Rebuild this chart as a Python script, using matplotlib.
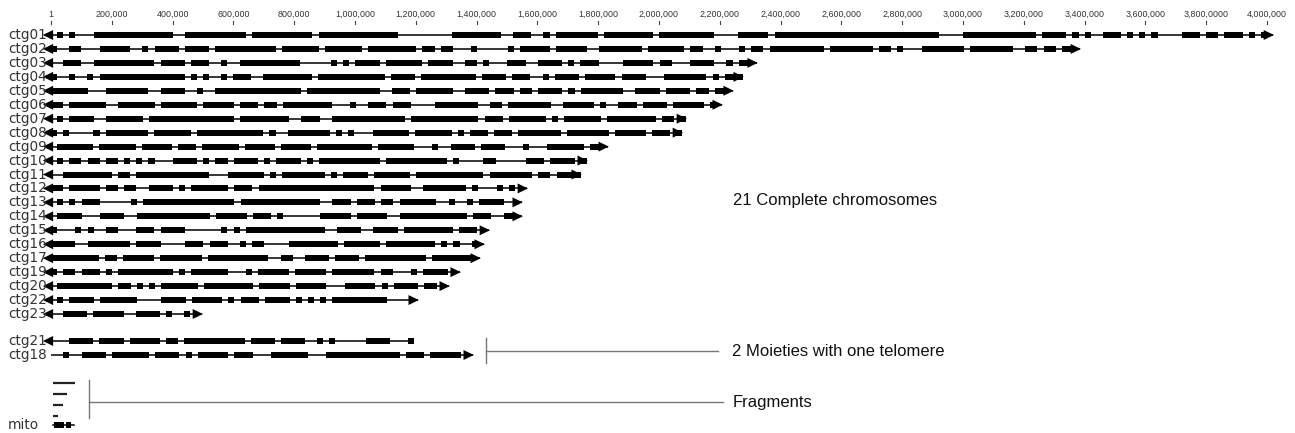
import matplotlib.pyplot as plt
from matplotlib.patches import Polygon

# contig lengths in kb and gene-block patterns.
# each pattern char is one equal bin along the contig: '#' = gene block, '-' = bare backbone
complete_names = ['ctg01', 'ctg02', 'ctg03', 'ctg04', 'ctg05', 'ctg06', 'ctg07', 'ctg08',
                  'ctg09', 'ctg10', 'ctg11', 'ctg12', 'ctg13', 'ctg14', 'ctg15', 'ctg16',
                  'ctg17', 'ctg19', 'ctg20', 'ctg22', 'ctg23']
complete_lengths = [4020, 3385, 2322, 2276, 2243, 2207, 2089, 2076, 1832, 1763, 1743,
                    1566, 1549, 1549, 1441, 1424, 1411, 1345, 1309, 1207, 497]
complete_patterns = [
    ("-#-#---#############--" "##########-##########-#############" "---------"
     "########--###--#-" "#######-########-" "#########----" "#####-###################"
     "########----" "############-####" "-#-#--###" "-#-#-#----" "###-##-###-#-#-"),
    ("#--" "##-" "--" "#####" "--#-" "####-####" "-" "##########" "-#" "#####-######-#######"
     "#-" "##-##" "---#-----" "#-" "#####-#####" "--" "#######-#" "#####-##" "--#---"
     "#-##-#########-####" "###-##-#" "---" "#######-#######" "--" "##-##" "-##-"),
    ("--" "###" "--" "##########" "-" "####-###" "--#--" "##########" "-----#-#-"
     "####-######-####" "--" "##" "-#---" "###" "--" "####" "-#" "-###" "----" "#####"
     "-#" "#---" "####" "--#-" "##-"),
    ("#--" "#" "--#-" "#########" "#####" "-#-#--#-" "###" "--" "########-#######" "####-"
     "####-#####" "####-####" "-" "###-" "-#-" "####-#####-####" "---" "######" "#-#-##" "#"),
    ("######" "---" "#######" "--" "####-" "-#--" "##############-############" "--"
     "###-######" "--" "####-###-##-####" "-#-" "#######" "--" "####-####" "-#" "#-##-"),
    ("##-" "######-" "-#" "#####" "-" "######-#####" "-#" "##-##" "-" "########" "---" "#-"
     "-" "###-###" "---" "-##" "#####" "--" "##-#######" "--" "#####-#" "--" "###-####"
     "-##" "###-#-"),
    ("-#-#" "###" "--" "######-######" "########-########" "--" "###" "--"
     "############-###########" "-" "###" "-" "######" "-" "#" "-" "######" "-" "########"
     "-" "##-#"),
    ("#-#-" "---" "#-##" "#####-######" "-" "##########" "#-#--" "#######-#-#" "---"
     "######-######" "-#-" "###-###" "-" "#######-######" "#-" "#####-###-#"),
    ("-#" "#####" "-" "######-#####-###-######" "-" "#####-#####-#########-######" "---" "#"
     "--" "####-####" "---#---" "######-##" "-"),
    ("-#-##-##-##" "-#-#-#-" "--" "####" "-#-" "##-####" "-#-" "####-#-##########-##########"
     "-#-" "---" "##" "-----" "###-####" "-#"),
    ("--#" "#######-##-#######" "#####" "---" "######" "-#-" "#######" "-" "#-####" "-"
     "######-######" "#####-#######-##-####"),
    ("##-##" "###-" "##-" "##--" "####-#-" "######-" "###-" "###################" "-#"
     "####" "--" "######" "#-#" "---" "#" "-#--"),
    ("-#-" "#" "-#" "##" "-----" "#-###############" "-" "#############" "--" "###-###"
     "-##-" "######" "--#--" "#-" "####" "---"),
    ("-#" "###" "---" "####" "--" "########" "####" "-" "#####-###-#-" "-----" "#####-#####"
     "--" "##########" "#-##" "#-" "-##-"),
    ("#-" "--" "#-#" "--" "##" "--" "-##" "#-####" "------" "#" "-" "#-#############" "--"
     "####" "--" "####-########" "-" "###" "--"),
    ("####" "--" "#######-####" "----" "###-###" "--" "#-##" "----" "########" "-" "######"
     "-" "#######" "#-#-" "#--#-"),
    ("########-##-#####-#######-##########" "--" "##" "--" "####-####-##########-######" "#-"),
    ("#-##" "-" "##" "#-#" "-" "#########" "-#-" "#####" "#" "---#-" "#####-" "#####" "-"
     "######" "#-##" "---" "#" "-" "####" "--"),
    ("-#" "#######" "#-##-#" "-#-" "######" "-" "####" "####-" "#####-#####" "---" "#####"
     "-" "#-###" "#-#" "#--"),
    ("-#-" "####-" "######" "----" "####-#####" "-#-" "###-####" "-#-#-#-" "#########" "-----"),
    ("--" "####" "-" "#####" "--" "####" "-#" "--" "#" "--"),
]

moiety_names = ['ctg21', 'ctg18']
moiety_lengths = [1194, 1388]
moiety_patterns = [
    ("---" "####-####-#####-##-##########-####-####" "--" "#-#" "-----" "####" "---" "#"),
    ("--#--" "####-######-####-#-#####-###" "---" "######" "---" "############-###-#####" "--"),
]
moiety_left_telomere = [True, False]
moiety_right_telomere = [False, True]

fragment_lengths = [80, 53, 40, 23]
mito_length = 75
mito_pattern = "-####-##-"

tick_values = [0, 200, 400, 600, 800, 1000, 1200, 1400, 1600, 1800, 2000,
               2200, 2400, 2600, 2800, 3000, 3200, 3400, 3600, 3800, 4000]
tick_labels = ['1', '200,000', '400,000', '600,000', '800,000', '1,000,000', '1,200,000',
               '1,400,000', '1,600,000', '1,800,000', '2,000,000', '2,200,000', '2,400,000',
               '2,600,000', '2,800,000', '3,000,000', '3,200,000', '3,400,000', '3,600,000',
               '3,800,0000', '4,000,000']

PX_PER_KB = 0.304
LABEL_X = -141          # kb, left edge of contig names
ARROW_LEN = 34          # kb
ARROW_HALF = 5.0        # px
BLOCK_H = 6.0           # px
SANS = ['Liberation Sans', 'DejaVu Sans']


def gene_blocks(length, pattern):
    step = length / len(pattern)
    blocks = []
    start = None
    for i, ch in enumerate(pattern + '-'):
        if ch == '#' and start is None:
            start = i
        elif ch != '#' and start is not None:
            blocks.append((start * step, (i - start) * step))
            start = None
    return blocks


def draw_contig(ax, y, length, pattern, left=True, right=True):
    ax.plot([0, length], [y, y], color='black', lw=1.1, solid_capstyle='butt')
    ax.broken_barh(gene_blocks(length, pattern), (y - BLOCK_H / 2, BLOCK_H),
                   facecolor='black', edgecolor='none')
    if left:
        ax.add_patch(Polygon([(-27, y), (-27 + ARROW_LEN, y - ARROW_HALF),
                              (-27 + ARROW_LEN, y + ARROW_HALF)], closed=True,
                             facecolor='black', edgecolor='none'))
    if right:
        ax.add_patch(Polygon([(length + 3, y), (length + 3 - ARROW_LEN, y - ARROW_HALF),
                              (length + 3 - ARROW_LEN, y + ARROW_HALF)], closed=True,
                             facecolor='black', edgecolor='none'))


fig = plt.figure(figsize=(12.95, 4.33), dpi=100)
ax = fig.add_axes([0, 0, 1, 1])
ax.set_xlim(-51 / PX_PER_KB, (1295 - 51) / PX_PER_KB)
ax.set_ylim(433, 0)
ax.axis('off')

# ruler on top
for v, lab in zip(tick_values, tick_labels):
    ax.text(v, 14.5, lab, ha='center', va='center', fontsize=6.4, family=SANS, color='#333')
    ax.plot([v, v], [20.5, 24], color='#444', lw=0.8)

# complete chromosomes
for i, (name, length, pat) in enumerate(zip(complete_names, complete_lengths, complete_patterns)):
    y = 35 + 13.95 * i
    ax.text(LABEL_X, y, name, ha='left', va='center', fontsize=9.8, color='#333')
    draw_contig(ax, y, length, pat)

# moieties with one telomere
for i, name in enumerate(moiety_names):
    y = 341 + 14 * i
    ax.text(LABEL_X, y, name, ha='left', va='center', fontsize=9.8, color='#333')
    draw_contig(ax, y, moiety_lengths[i], moiety_patterns[i],
                moiety_left_telomere[i], moiety_right_telomere[i])

# fragments and mito
for i, length in enumerate(fragment_lengths):
    y = 383 + 11 * i
    ax.plot([5, length], [y, y], color='#222', lw=1.6, solid_capstyle='butt')
ax.text(LABEL_X, 425, 'mito', ha='left', va='center', fontsize=9.8, color='#333')
ax.plot([5, mito_length], [425, 425], color='black', lw=1.1)
ax.broken_barh(gene_blocks(mito_length, mito_pattern), (425 - 2.6, 5.2),
               facecolor='black', edgecolor='none')

# brackets and group annotations
text_x = 2243
bracket_x = max(moiety_lengths) + 43
ax.plot([bracket_x, bracket_x], [338, 363], color='#777', lw=1.0)
ax.plot([bracket_x, 2194], [351, 351], color='#777', lw=1.0)
frag_x = 125
ax.plot([frag_x, frag_x], [380, 418], color='#777', lw=1.0)
ax.plot([frag_x, 2211], [402, 402], color='#777', lw=1.0)

ax.text(text_x, 200, '21 Complete chromosomes', ha='left', va='center', fontsize=12,
        family=SANS, color='#111')
ax.text(text_x - 3, 351, '2 Moieties with one telomere', ha='left', va='center', fontsize=12,
        family=SANS, color='#111')
ax.text(text_x, 403, 'Fragments', ha='left', va='center', fontsize=12,
        family=SANS, color='#111')

fig.savefig('out.png', dpi=100)
